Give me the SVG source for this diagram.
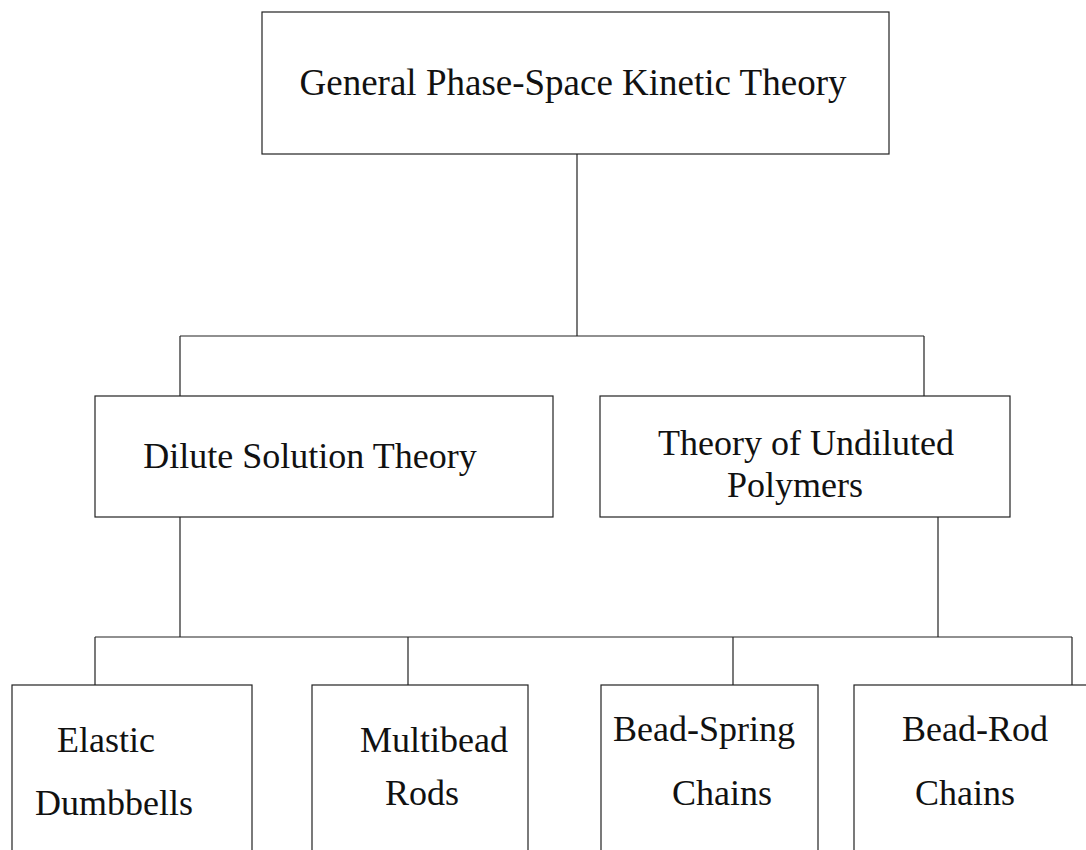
<svg xmlns="http://www.w3.org/2000/svg" width="1086" height="850" viewBox="0 0 1086 850">
<style>
.box{fill:#fff;stroke:#222;stroke-width:1.2}
.ln{stroke:#222;stroke-width:1.2;fill:none}
.t{font-family:"Liberation Serif","Times New Roman",serif;font-size:36px;fill:#111}
</style>
<rect width="1086" height="850" fill="#fff"/>
<g id="connectors">
<path class="ln" d="M577,154 V336 M180,336 H924 M180,336 V396 M924,336 V396"/>
<path class="ln" d="M180,517 V637 M938,517 V637 M95,637 H1072 M95,637 V685 M408,637 V685 M733,637 V685 M1072,637 V685"/>
</g>
<g id="n-general">
<rect class="box" x="262" y="12" width="627" height="142"/>
<text class="t" x="573" y="95" text-anchor="middle" style="font-size:37px">General Phase-Space Kinetic Theory</text>
</g>
<g id="n-dilute">
<rect class="box" x="95" y="396" width="458" height="121"/>
<text class="t" x="310" y="468" text-anchor="middle">Dilute Solution Theory</text>
</g>
<g id="n-undiluted">
<rect class="box" x="600" y="396" width="410" height="121"/>
<text class="t" x="658" y="455">Theory of Undiluted</text>
<text class="t" x="727" y="497">Polymers</text>
</g>
<g id="n-elastic">
<rect class="box" x="12" y="685" width="240" height="180"/>
<text class="t" x="57" y="752">Elastic</text>
<text class="t" x="35" y="815">Dumbbells</text>
</g>
<g id="n-multibead">
<rect class="box" x="312" y="685" width="216" height="180"/>
<text class="t" x="360" y="752">Multibead</text>
<text class="t" x="385" y="805">Rods</text>
</g>
<g id="n-beadspring">
<rect class="box" x="601" y="685" width="217" height="180"/>
<text class="t" x="613" y="741">Bead-Spring</text>
<text class="t" x="672" y="805">Chains</text>
</g>
<g id="n-beadrod">
<rect class="box" x="854" y="685" width="250" height="180"/>
<text class="t" x="902" y="741">Bead-Rod</text>
<text class="t" x="915" y="805">Chains</text>
</g>
</svg>
